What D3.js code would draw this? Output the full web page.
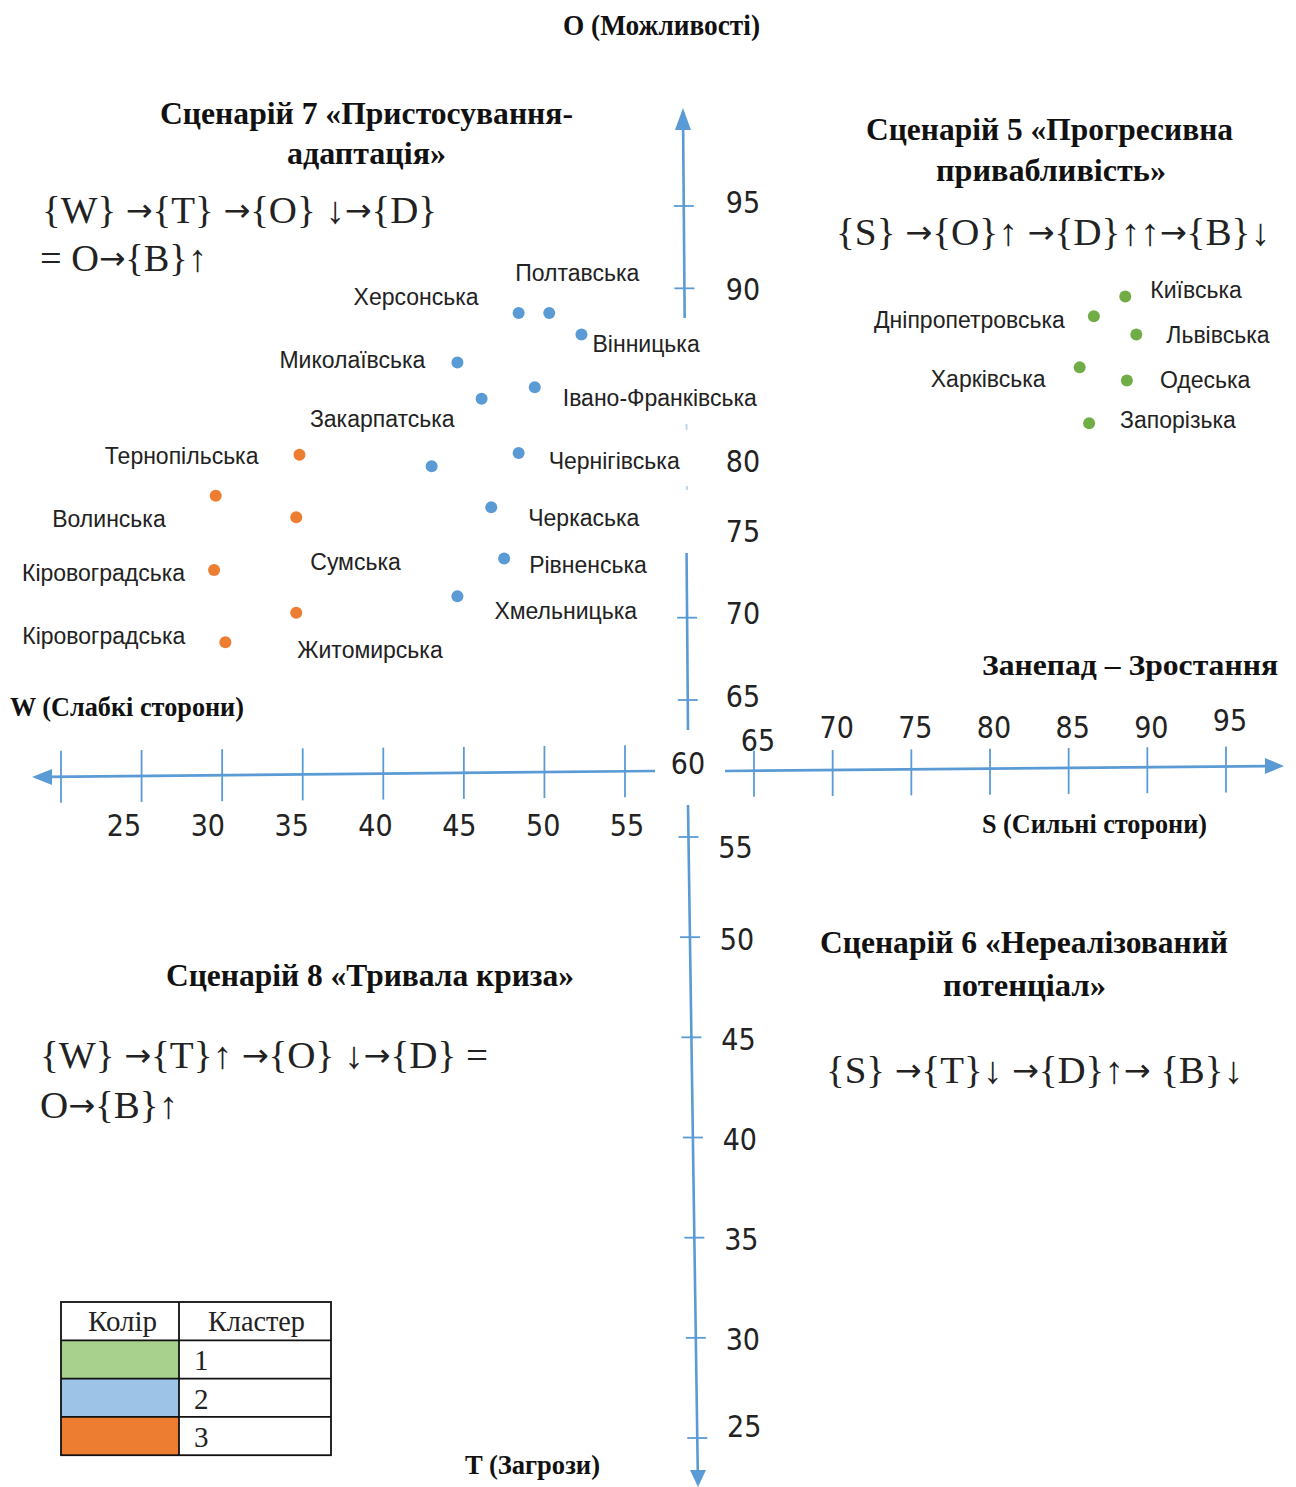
<!DOCTYPE html>
<html><head><meta charset="utf-8">
<script src="https://cdn.jsdelivr.net/npm/d3@7"></script>
<style>body{margin:0;background:#fff} svg{display:block}</style>
</head><body>
<svg id="chart" width="1296" height="1487"></svg>
<script>
// ================= DATA =================
const cluster1Names = ["Київська","Дніпропетровська","Львівська","Харківська","Одеська","Запорізька"];
const cluster1S = [88.6, 86.6, 89.3, 85.7, 88.7, 86.3];
const cluster1O = [89.5, 88.3, 87.2, 85.2, 84.4, 81.8];

const cluster2Names = ["Херсонська","Полтавська","Вінницька","Миколаївська","Івано-Франківська","Закарпатська","Чернігівська","","Черкаська","Рівненська","Хмельницька"];
const cluster2W = [48.4, 50.3, 52.3, 44.6, 49.4, 46.1, 48.4, 43.0, 46.7, 47.5, 44.6];
const cluster2O = [88.5, 88.5, 87.2, 85.5, 84.0, 83.3, 80.0, 79.2, 76.7, 73.6, 71.3];

const cluster3Names = ["Тернопільська","Волинська","Сумська","Кіровоградська","Житомирська","Кіровоградська"];
const cluster3W = [34.8, 29.6, 34.6, 29.5, 34.6, 30.2];
const cluster3O = [79.9, 77.4, 76.1, 72.9, 70.3, 68.5];

const oTickMarks = [95, 90, 70, 65];
const oTickLabels = [95, 90, 80, 75, 70, 65];
const wTickMarks = [20, 25, 30, 35, 40, 45, 50, 55];
const wTickLabels = [25, 30, 35, 40, 45, 50, 55];
const sTicks = [65, 70, 75, 80, 85, 90, 95];
const tTicks = [55, 50, 45, 40, 35, 30, 25];
const originLabel = "60";

const axisTitles = ["O (Можливості)", "W (Слабкі сторони)", "S (Сильні сторони)", "T (Загрози)", "Занепад – Зростання"];

const scenario7 = ["Сценарій 7 «Пристосування-", "адаптація»"];
const formula7 = ["{W} →{T} →{O} ↓→{D}", "= O→{B}↑"];
const scenario5 = ["Сценарій 5 «Прогресивна", "привабливість»"];
const formula5 = ["{S} →{O}↑ →{D}↑↑→{B}↓"];
const scenario6 = ["Сценарій 6 «Нереалізований", "потенціал»"];
const formula6 = ["{S} →{T}↓ →{D}↑→ {B}↓"];
const scenario8 = ["Сценарій 8 «Тривала криза»"];
const formula8 = ["{W} →{T}↑ →{O} ↓→{D} =", "O→{B}↑"];

const legendHeader = ["Колір", "Кластер"];
const legendClusters = [1, 2, 3];

// ================= STYLE / LAYOUT =================
const clusterColor = {1: "#70AD47", 2: "#5B9BD5", 3: "#ED7D31"};
const legendFill = {1: "#A9D18E", 2: "#9DC3E6", 3: "#ED7D31"};
const axisColor = "#5B9BD5";
const sansFont = "'Liberation Sans', Arial, sans-serif";
const narrowFont = "'Liberation Sans Narrow', 'DejaVu Sans Condensed', 'Liberation Sans', sans-serif";
const serifFont = "'Liberation Serif', 'Times New Roman', serif";
const arrowFont = "'DejaVu Sans', sans-serif";

// label offsets [dx, dy, anchor] relative to point
const place1 = [[25,-7,"start"],[-29,4,"end"],[30,1,"start"],[-34,12,"end"],[33,-1,"start"],[31,-3,"start"]];
const place2 = [[-40,-16,"end"],[-34,-40,"start"],[11,10,"start"],[-32,-2,"end"],[28,11,"start"],[-27,20,"end"],[30,8,"start"],[0,0,"start"],[37,11,"start"],[25,7,"start"],[37,15,"start"]];
const place3 = [[-41,1,"end"],[-50,23,"end"],[14,45,"start"],[-29,3,"end"],[1,37,"start"],[-40,-6,"end"]];

const svg = d3.select("#chart");

// ================= SCALES =================
const wScale = d3.scaleLinear().domain([20, 55]).range([61, 625]);
const wLabelScale = d3.scaleLinear().domain([25, 55]).range([124, 627]);
const sScale = d3.scaleLinear().domain([65, 95]).range([754, 1226]);
const oScale = d3.scaleLinear().domain([65, 95]).range([700, 206]);
const tScale = d3.scaleLinear().domain([55, 25]).range([837, 1438]);

// slight slant of the hand-drawn axes
const oX = y => 683 + (y - 112) * 5 / 618;
const tX = y => 688 + (y - 805) * 10 / 682;
const wY = x => 777 - (x - 33) * 6 / 622;
const sY = x => 771 - (x - 725) * 5 / 558;

const gAx = svg.append("g").attr("stroke", axisColor).attr("fill", "none");

// ---- O axis (upper vertical), in two segments
[[112, 318], [553, 730]].forEach(([a, b]) => {
  gAx.append("line").attr("x1", oX(a)).attr("y1", a).attr("x2", oX(b)).attr("y2", b).attr("stroke-width", 2.6);
});
gAx.append("path").attr("d", `M${oX(110)},108 L${oX(110)-8},130 L${oX(110)+8},130 Z`).attr("fill", axisColor).attr("stroke", "none");
gAx.selectAll(".otick").data(oTickMarks).join("line")
  .attr("x1", d => oX(oScale(d)) - 10).attr("x2", d => oX(oScale(d)) + 10)
  .attr("y1", d => oScale(d)).attr("y2", d => oScale(d)).attr("stroke-width", 1.8);
[[424, 430], [486, 490]].forEach(([a, b]) => {
  gAx.append("line").attr("x1", oX(a)+1).attr("y1", a).attr("x2", oX(b)+1).attr("y2", b).attr("stroke-width", 2).attr("opacity", 0.4);
});

// ---- T axis (lower vertical)
gAx.append("line").attr("x1", tX(805)).attr("y1", 805).attr("x2", tX(1472)).attr("y2", 1472).attr("stroke-width", 2.6);
gAx.append("path").attr("d", `M${tX(1487)},1487 L${tX(1487)-8},1470 L${tX(1487)+8},1470 Z`).attr("fill", axisColor).attr("stroke", "none");
gAx.selectAll(".ttick").data(tTicks).join("line")
  .attr("x1", d => tX(tScale(d)) - 10).attr("x2", d => tX(tScale(d)) + 10)
  .attr("y1", d => tScale(d)).attr("y2", d => tScale(d)).attr("stroke-width", 1.8);

// ---- W axis (left horizontal)
gAx.append("line").attr("x1", 48).attr("y1", wY(48)).attr("x2", 655).attr("y2", wY(655)).attr("stroke-width", 2.6);
gAx.append("path").attr("d", `M32,${wY(32)} L52,${wY(32)-8} L52,${wY(32)+8} Z`).attr("fill", axisColor).attr("stroke", "none");
gAx.selectAll(".wtick").data(wTickMarks).join("line")
  .attr("x1", d => wScale(d)).attr("x2", d => wScale(d))
  .attr("y1", d => wY(wScale(d)) - 26).attr("y2", d => wY(wScale(d)) + 26).attr("stroke-width", 1.8);

// ---- S axis (right horizontal)
gAx.append("line").attr("x1", 725).attr("y1", sY(725)).attr("x2", 1268).attr("y2", sY(1268)).attr("stroke-width", 2.6);
gAx.append("path").attr("d", `M1284,${sY(1284)} L1265,${sY(1284)-8} L1265,${sY(1284)+8} Z`).attr("fill", axisColor).attr("stroke", "none");
gAx.selectAll(".stick").data(sTicks).join("line")
  .attr("x1", d => sScale(d)).attr("x2", d => sScale(d))
  .attr("y1", d => sY(sScale(d)) - 20).attr("y2", d => sY(sScale(d)) + 26).attr("stroke-width", 1.8);

// ================= TICK LABELS =================
const gTk = svg.append("g").attr("font-family", narrowFont).attr("font-size", 30).attr("fill", "#222")
  .attr("text-anchor", "middle").attr("dominant-baseline", "central");
gTk.selectAll(".ol").data(oTickLabels).join("text").attr("x", 743)
  .attr("y", d => oScale(d) - 4 + (d === 80 ? 12 : 0) + (d === 90 ? 5 : 0)).text(d => d);
gTk.selectAll(".tl").data(tTicks).join("text").attr("x", d => tX(tScale(d)) + 47)
  .attr("y", d => tScale(d) + 2 + (d === 55 ? 8 : 0) + (d === 25 ? -14 : 0)).text(d => d);
gTk.selectAll(".wl").data(wTickLabels).join("text").attr("x", d => wLabelScale(d)).attr("y", 825).text(d => d);
gTk.selectAll(".sl").data(sTicks).join("text").attr("x", d => sScale(d) + 4)
  .attr("y", (d, i) => i === 0 ? 740 : (i === sTicks.length - 1 ? 720 : 727)).text(d => d);
gTk.append("text").attr("x", 688).attr("y", 763).text(originLabel);

// ================= TITLES =================
function fitText(g, str, x, y, len, size, weight, anchor) {
  return g.append("text").attr("x", x).attr("y", y).attr("font-size", size).attr("font-weight", weight)
    .attr("text-anchor", anchor || "start").attr("dominant-baseline", "central")
    .attr("textLength", len).attr("lengthAdjust", "spacingAndGlyphs").text(str);
}
function formulaText(g, str, x, y, len, size) {
  const t = g.append("text").attr("x", x).attr("y", y).attr("font-size", size)
    .attr("dominant-baseline", "central")
    .attr("textLength", len).attr("lengthAdjust", "spacingAndGlyphs");
  str.split(/([→↑↓])/).filter(s => s.length).forEach(part => {
    const ts = t.append("tspan").text(part);
    if (/[→]/.test(part)) ts.attr("font-family", arrowFont).attr("font-size", size * 0.82);
  });
  return t;
}
const gT = svg.append("g").attr("font-family", serifFont).attr("fill", "#111");
fitText(gT, axisTitles[0], 563, 25, 197, 29, "bold");
fitText(gT, axisTitles[1], 10, 707, 234, 27, "bold");
fitText(gT, axisTitles[2], 982, 824, 225, 27, "bold");
fitText(gT, axisTitles[3], 465, 1465, 135, 27, "bold");
fitText(gT, axisTitles[4], 982, 664, 296, 30, "bold");

fitText(gT, scenario7[0], 160, 113, 413, 31, "bold");
fitText(gT, scenario7[1], 287, 153, 159, 31, "bold");
fitText(gT, scenario5[0], 866, 129, 367, 31, "bold");
fitText(gT, scenario5[1], 936, 170, 230, 31, "bold");
fitText(gT, scenario6[0], 820, 942, 408, 31, "bold");
fitText(gT, scenario6[1], 943, 985, 163, 31, "bold");
fitText(gT, scenario8[0], 166, 975, 408, 31, "bold");

const gF = svg.append("g").attr("font-family", serifFont).attr("fill", "#222");
formulaText(gF, formula7[0], 42, 210, 395, 38);
formulaText(gF, formula7[1], 40, 258, 167, 38);
formulaText(gF, formula5[0], 836, 232, 434, 38);
formulaText(gF, formula6[0], 826, 1070, 417, 38);
formulaText(gF, formula8[0], 40, 1055, 448, 38);
formulaText(gF, formula8[1], 40, 1105, 138, 38);

// ================= POINTS + LABELS =================
function drawCluster(names, xs, ys, xScale, place, cid) {
  const data = names.map((n, i) => ({name: n, x: xs[i], y: ys[i], p: place[i]}));
  const g = svg.append("g");
  g.selectAll("circle").data(data).join("circle")
    .attr("cx", d => xScale(d.x)).attr("cy", d => oScale(d.y)).attr("r", 6)
    .attr("fill", clusterColor[cid]);
  g.selectAll("text").data(data.filter(d => d.name)).join("text")
    .attr("x", d => xScale(d.x) + d.p[0]).attr("y", d => oScale(d.y) + d.p[1])
    .attr("text-anchor", d => d.p[2]).attr("dominant-baseline", "central")
    .attr("font-family", sansFont).attr("font-size", 23).attr("fill", "#222")
    .text(d => d.name);
}
drawCluster(cluster1Names, cluster1S, cluster1O, sScale, place1, 1);
drawCluster(cluster2Names, cluster2W, cluster2O, wScale, place2, 2);
drawCluster(cluster3Names, cluster3W, cluster3O, wScale, place3, 3);

// ================= LEGEND TABLE =================
const lx = 61, ly = 1302, c1 = 118, c2 = 152, rh = 38.3;
const gL = svg.append("g");
gL.selectAll("rect.fill").data(legendClusters).join("rect")
  .attr("x", lx).attr("y", (d, i) => ly + rh * (i + 1)).attr("width", c1).attr("height", rh)
  .attr("fill", d => legendFill[d]);
gL.append("rect").attr("x", lx).attr("y", ly).attr("width", c1 + c2).attr("height", rh * 4)
  .attr("fill", "none").attr("stroke", "#111").attr("stroke-width", 1.8);
gL.selectAll("line.row").data([1, 2, 3]).join("line")
  .attr("x1", lx).attr("x2", lx + c1 + c2).attr("y1", d => ly + rh * d).attr("y2", d => ly + rh * d)
  .attr("stroke", "#111").attr("stroke-width", 1.8);
gL.append("line").attr("x1", lx + c1).attr("x2", lx + c1).attr("y1", ly).attr("y2", ly + rh * 4)
  .attr("stroke", "#111").attr("stroke-width", 1.8);
const gLt = gL.append("g").attr("font-family", serifFont).attr("fill", "#222");
fitText(gLt, legendHeader[0], 88, ly + rh / 2, 69, 29, "normal");
fitText(gLt, legendHeader[1], 208, ly + rh / 2, 97, 29, "normal");
gLt.selectAll("text.num").data(legendClusters).join("text")
  .attr("x", lx + c1 + 15).attr("y", (d, i) => ly + rh * (i + 1.5) + 1)
  .attr("dominant-baseline", "central").attr("font-size", 29).text(d => d);
</script>
</body></html>
